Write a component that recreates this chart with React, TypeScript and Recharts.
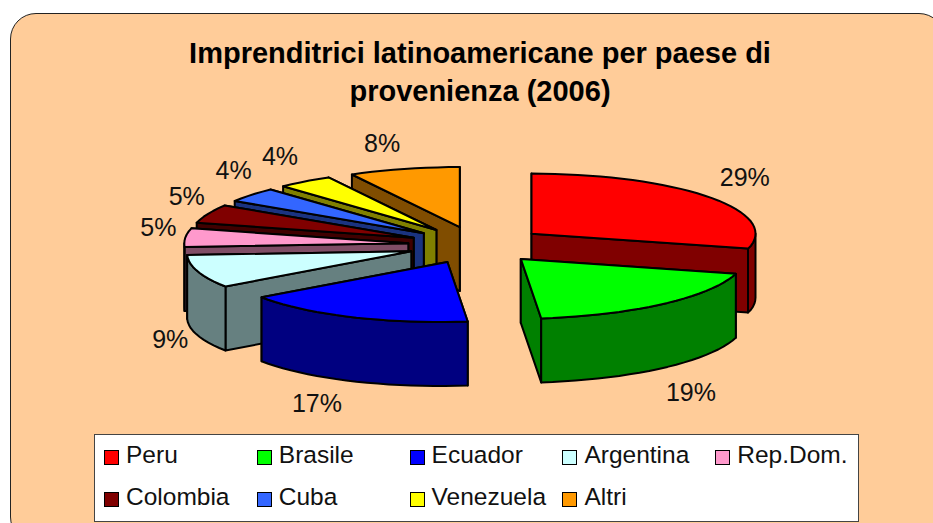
import { PieChart, Pie, Legend } from 'recharts';

const countries = ['Peru', 'Brasile', 'Ecuador', 'Argentina', 'Rep.Dom.', 'Colombia', 'Cuba', 'Venezuela', 'Altri'];
const shares = [29, 19, 17, 9, 5, 5, 4, 4, 8];
const topColors = ['#FF0000', '#00FF00', '#0000FF', '#CCFFFF', '#FF99CC', '#800000', '#3366FF', '#FFFF00', '#FF9900'];
const wallColors = ['#800000', '#008000', '#000080', '#668080', '#804D66', '#400000', '#1A3380', '#808000', '#804D00'];

const FONT = '"Liberation Sans", Arial, sans-serif';
const TILT = 0.268; // ellipse height / width
const DEPTH = 64;
const EXPLODE = 0.308;
const LEAN = 0.13; // the front of the pie leans left a little, like the original's perspective

// small hand corrections for the percent labels, same order as countries
const labelShiftX = [11, -1, -31, -1, 5, 8, 7, -6, -14];
const labelShiftY = [1, -1, -9, -8, -7, -5, -4, 2, 6];

// Slices are painted back to front, so Peru goes first and the rest run counter-clockwise.
const paintOrder = [0, 8, 7, 6, 5, 4, 3, 2, 1];
const sliceRows = paintOrder.map((i) => ({
  name: countries[i],
  value: shares[i],
  fill: topColors[i],
  wall: wallColors[i],
  shiftX: labelShiftX[i],
  shiftY: labelShiftY[i],
}));
const total = shares.reduce((sum, v) => sum + v, 0);
const startAngle = 90 - (shares[0] / total) * 360;

const rad = (deg: number) => (deg * Math.PI) / 180;

function Slice3D(props: any) {
  const { cx, cy, outerRadius, startAngle: a0, endAngle: a1, fill, payload } = props;
  const wall = payload?.wall ?? props.wall;
  const a = Math.min(a0, a1);
  const e = Math.max(a0, a1);
  const mid = rad((a + e) / 2);
  const rx = outerRadius;
  const ry = outerRadius * TILT;
  const ax = cx + EXPLODE * rx * Math.cos(mid);
  const ay = cy - EXPLODE * ry * Math.sin(mid);
  const lean = (x: number, y: number, drop: number) =>
    `${(x - LEAN * Math.max(0, y - cy)).toFixed(1)} ${(y + drop).toFixed(1)}`;
  const apex = (drop = 0) => lean(ax, ay, drop);
  const rim = (deg: number, drop = 0) =>
    lean(ax + rx * Math.cos(rad(deg)), ay - ry * Math.sin(rad(deg)), drop);
  const arc = (from: number, to: number, drop = 0) => {
    const pts = [];
    const steps = Math.max(2, Math.ceil(Math.abs(to - from) / 3));
    for (let s = 0; s <= steps; s++) pts.push(rim(from + ((to - from) * s) / steps, drop));
    return pts;
  };
  const radialWall = (deg: number) =>
    `M${apex()} L${rim(deg)} L${rim(deg, DEPTH)} L${apex(DEPTH)} Z`;

  const aFront = Math.sin(rad(a - 90)) < 0;
  const eFront = Math.sin(rad(e + 90)) < 0;
  const back = [aFront ? null : a, eFront ? null : e].filter((d) => d !== null) as number[];
  const front = [aFront ? a : null, eFront ? e : null].filter((d) => d !== null) as number[];

  // the part of the outer wall that faces the viewer
  let rimWall = '';
  for (const k of [-1, 0, 1]) {
    const lo = Math.max(a, 180 + 360 * k);
    const hi = Math.min(e, 360 + 360 * k);
    if (lo < hi) {
      rimWall = `M${arc(lo, hi).join(' L')} L${arc(hi, lo, DEPTH).join(' L')} Z`;
      break;
    }
  }
  const stroke = { stroke: '#000', strokeWidth: 2, strokeLinejoin: 'round' as const };
  return (
    <g>
      {back.map((d) => <path key={d} d={radialWall(d)} fill={wall} {...stroke} />)}
      {front.map((d) => <path key={d} d={radialWall(d)} fill={wall} {...stroke} />)}
      {rimWall && <path d={rimWall} fill={wall} {...stroke} />}
      <path d={`M${apex()} L${arc(a, e).join(' L')} Z`} fill={fill} {...stroke} />
    </g>
  );
}

function SliceLabel(props: any) {
  const { cx, cy, midAngle, value, payload } = props;
  const m = rad(midAngle);
  const x = cx + 325 * Math.cos(m) + (payload?.shiftX ?? props.shiftX);
  const y = cy - 112 * Math.sin(m) + (Math.sin(m) < -0.2 ? DEPTH : 0) + (payload?.shiftY ?? props.shiftY);
  return (
    <text x={x} y={y} textAnchor="middle" dominantBaseline="central" fontFamily={FONT} fontSize={25} fill="#111">
      {value}%
    </text>
  );
}

function LegendBox() {
  return (
    <div
      style={{
        width: 765,
        height: 88,
        background: '#fff',
        border: '1.5px solid #444',
        display: 'grid',
        gridTemplateColumns: 'repeat(5, 152.8px)',
        gridAutoRows: '42px',
        paddingLeft: 9,
        paddingTop: 1,
        boxSizing: 'border-box',
        fontFamily: FONT,
        fontSize: 24.5,
        color: '#111',
      }}
    >
      {countries.map((name, i) => (
        <div key={name} style={{ display: 'flex', alignItems: 'center', whiteSpace: 'nowrap' }}>
          <span
            style={{
              width: 15,
              height: 15,
              boxSizing: 'border-box',
              marginRight: 7,
              background: topColors[i],
              border: '1.5px solid #000',
              flex: 'none',
            }}
          />
          <span style={{ position: 'relative', top: -2 }}>{name}</span>
        </div>
      ))}
    </div>
  );
}

export default function App() {
  return (
    <div style={{ position: 'absolute', left: 0, top: 0, width: 933, height: 523, overflow: 'hidden', background: '#fff' }}>
      <div
        style={{
          position: 'absolute',
          left: 10,
          top: 13,
          width: 935,
          height: 530,
          boxSizing: 'border-box',
          background: '#FFCC99',
          border: '1.5px solid #222',
          borderRadius: 26,
        }}
      />
      <div style={{ position: 'absolute', left: 0, top: 0 }}>
        <PieChart width={933} height={523} margin={{ top: 0, right: 0, bottom: 0, left: 0 }}>
          <text x={480} y={63} textAnchor="middle" fontFamily={FONT} fontWeight="bold" fontSize={29} fill="#000">
            Imprenditrici latinoamericane per paese di
          </text>
          <text x={480} y={101} textAnchor="middle" fontFamily={FONT} fontWeight="bold" fontSize={29} fill="#000">
            provenienza (2006)
          </text>
          <Pie
            data={sliceRows}
            dataKey="value"
            nameKey="name"
            cx={477}
            cy={245}
            outerRadius={224}
            startAngle={startAngle}
            endAngle={startAngle + 360}
            shape={Slice3D}
            label={SliceLabel}
            labelLine={false}
            isAnimationActive={false}
          />
          <Legend
            content={LegendBox}
            wrapperStyle={{ position: 'absolute', left: 94, top: 434, width: 765, height: 88, bottom: 'auto' }}
          />
        </PieChart>
      </div>
    </div>
  );
}
